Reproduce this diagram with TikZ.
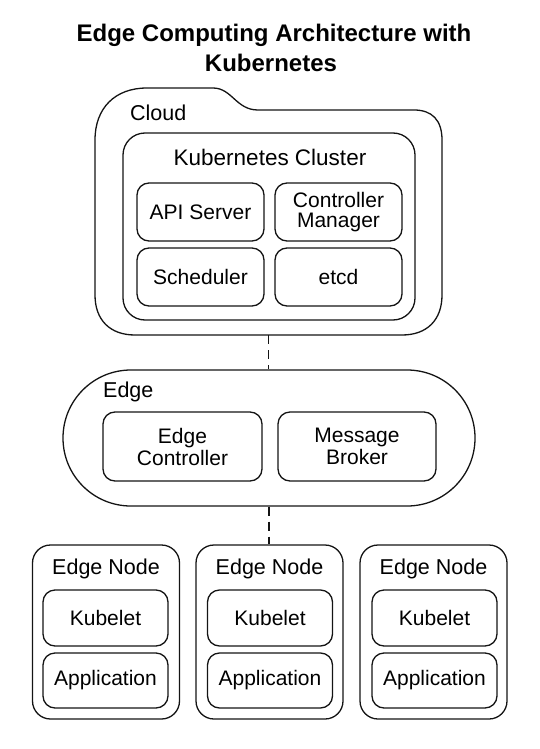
\documentclass[tikz,border=0pt]{standalone}
\usepackage{fontspec}
\setmainfont{Liberation Sans}
\begin{document}
\begin{tikzpicture}[x=1pt,y=-1pt,
  ln/.style={line width=1.3pt, draw=black!92},
  inbox/.style={ln, rounded corners=12pt, inner sep=0pt, align=center,
     font=\fontsize{21}{22}\selectfont},
  outbox/.style={ln, rounded corners=18pt, inner sep=0pt},
  lbl/.style={inner sep=0pt, font=\fontsize{21.5}{23}\selectfont},
  titlef/.style={inner sep=0pt, font=\bfseries\fontsize{24}{28}\selectfont},
  conn/.style={ln, dash pattern=on 9pt off 6pt}]
\useasboundingbox (0,0) rectangle (540,749);
% title
\node[titlef, anchor=base] (t1) at (274,42) {Edge Computing Architecture with};
\node[titlef, anchor=base] (t2) at (271,72) {Kubernetes};
% cloud
\node[minimum width=347pt, minimum height=247pt, inner sep=0pt] (cloud) at (268.5,211.5) {};
\draw[ln] (95,295) -- (95,140) .. controls (95,108) and (115,88) .. (147,88)
  -- (213,88) .. controls (232,88) and (236,110) .. (258,110)
  -- (414,110) .. controls (432,110) and (442,120) .. (442,140)
  -- (442,295) .. controls (442,320) and (427,335) .. (402,335)
  -- (135,335) .. controls (110,335) and (95,320) .. (95,295) -- cycle;
\node[lbl, anchor=west] (cloudl) at (130,113) {Cloud};
\node[outbox, rounded corners=22pt, minimum width=292pt, minimum height=187pt] (cluster) at (269,226.5) {};
\node[lbl, font=\fontsize{22.5}{24}\selectfont] (clusterl) at (270,157) {Kubernetes Cluster};
\node[inbox, minimum width=127pt, minimum height=58pt] (api) at (200.5,212) {API Server};
\node[inbox, minimum width=127pt, minimum height=58pt] (cm) at (338.5,212) {Controller\\[-1.5pt]Manager};
\node[inbox, minimum width=127pt, minimum height=58pt] (sch) at (200.5,277) {Scheduler};
\node[inbox, minimum width=127pt, minimum height=58pt] (etcd) at (338.5,277) {etcd};
% edge
\node[ln, rounded corners=67.9pt, minimum width=412pt, minimum height=136pt, inner sep=0pt] (edge) at (269,438) {};
\node[lbl, anchor=west] (edgel) at (103,392) {Edge};
\node[inbox, minimum width=159pt, minimum height=69pt] (ec) at (182.5,446.5) {Edge\\[0pt]Controller};
\node[inbox, minimum width=158pt, minimum height=69pt] (mb) at (357,446.5) {Message\\[0pt]Broker};
% edge nodes
\foreach \i/\cx/\ix in {1/106/105.5, 2/269.5/270, 3/433.5/434.5}{
  \node[outbox, minimum width=147pt, minimum height=174pt] (en\i) at (\cx,632) {};
  \node[lbl] (enl\i) at (\cx,569) {Edge Node};
  \node[inbox, minimum width=125pt, minimum height=56pt] (kub\i) at (\ix,618) {Kubelet};
  \node[inbox, minimum width=125pt, minimum height=55pt] (app\i) at (\ix,680.5) {Application};
}
% connectors
\draw[conn] (cloud.south) -- (cloud.south |- edge.north);
\draw[conn] (edge.south) -- (edge.south |- en2.north);
\end{tikzpicture}
\end{document}
